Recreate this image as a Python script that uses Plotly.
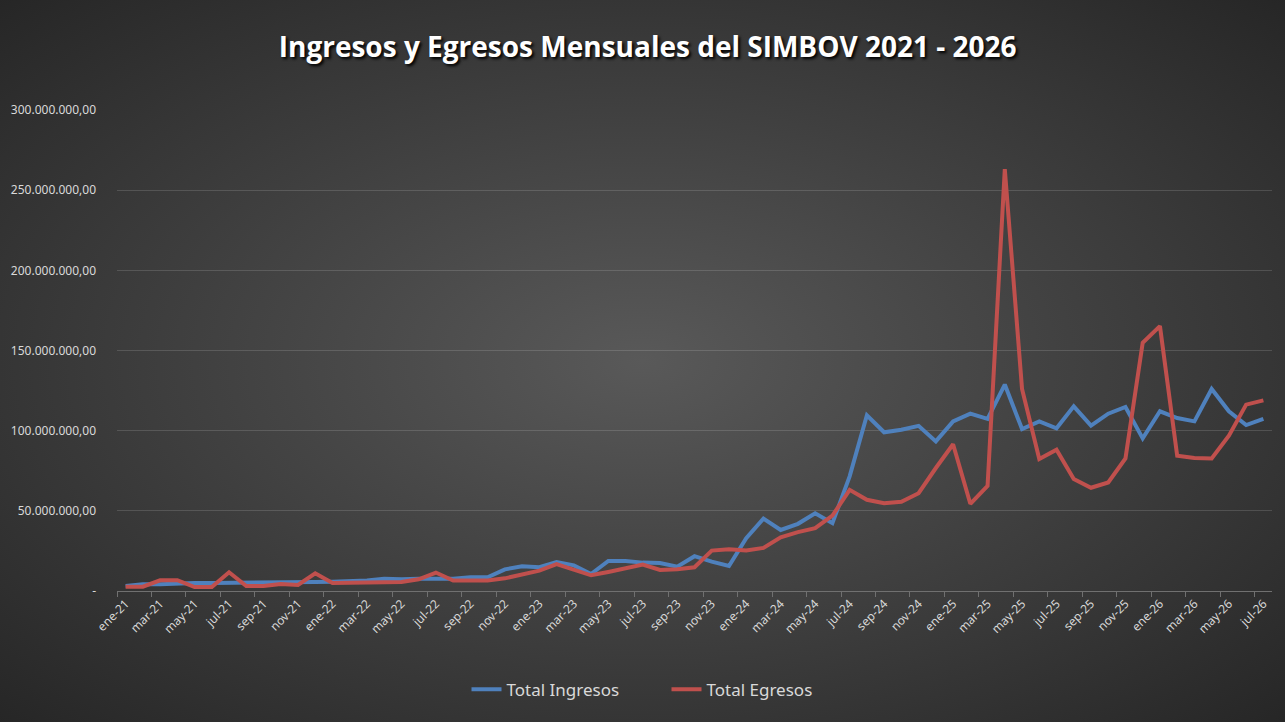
import base64
import plotly.graph_objects as go

# Meses ene-21 .. jul-26
meses_abrev = ['ene', 'feb', 'mar', 'abr', 'may', 'jun', 'jul', 'ago', 'sep', 'oct', 'nov', 'dic']
anios = [21, 22, 23, 24, 25, 26]
meses = [f'{m}-{a}' for a in anios for m in meses_abrev][:67]

# Valores en millones
ingresos_mill = [3.1, 4.2, 4.2, 4.8, 5.0, 5.0, 5.0, 5.6, 5.0, 5.6, 5.0, 5.6, 5.8,
                 6.0, 6.5, 7.7, 7.3, 7.7, 7.7, 7.7, 8.5, 8.5,
                 13.5, 15.4, 14.8, 18.1,
                 16.0, 10.6, 18.75, 18.75, 17.7, 17.5, 15.2, 21.7, 18.3, 15.6,
                 32.9, 45.2, 38.1, 41.9, 48.5, 42.3,
                 71.5, 109.6, 99.0, 100.6, 103.0, 93.3, 105.8, 110.6, 107.3,
                 128.75, 101.0, 105.8, 101.5, 115.2, 103.1, 110.6, 114.8, 95.2,
                 112.1, 107.9, 105.8, 126.0, 112.1, 103.5, 107.3]
egresos_mill = [2.7, 2.7, 6.7, 6.7, 2.5, 2.5, 11.7, 3.1, 3.1, 4.4, 3.75, 11.0, 5.0,
                5.2, 5.2, 5.6, 5.6, 7.3, 11.5, 6.5, 6.5, 6.5,
                7.9, 10.6, 12.7, 16.7,
                13.5, 9.8, 11.9, 14.2, 16.5, 13.1, 13.5, 14.8, 25.2, 26.0,
                25.2, 26.9, 33.5, 36.7, 39.2, 47.0,
                63.1, 56.9, 54.8, 55.6, 61.0, 76.7, 91.5, 54.4, 65.6,
                263.1, 126.0, 82.3, 88.1, 69.8, 64.4, 67.7, 82.7, 154.8,
                165.2, 84.4, 82.9, 82.7, 96.9, 116.25, 118.9]

ingresos = [v * 1e6 for v in ingresos_mill]
egresos = [v * 1e6 for v in egresos_mill]

y_ticks = [0, 50e6, 100e6, 150e6, 200e6, 250e6, 300e6]


def fmt_es(v):
    if v == 0:
        return '-'
    s = f'{v:,.2f}'
    return s.replace(',', '#').replace('.', ',').replace('#', '.')


y_text = [fmt_es(v) for v in y_ticks]

# fondo radial tipo Excel
svg = ('<svg xmlns="http://www.w3.org/2000/svg" width="1285" height="722" preserveAspectRatio="none">'
       '<defs><radialGradient id="g" cx="50%" cy="50%" r="71%">'
       '<stop offset="0%" stop-color="#595959"/><stop offset="100%" stop-color="#262626"/>'
       '</radialGradient></defs><rect width="1285" height="722" fill="url(#g)"/></svg>')
bg_src = 'data:image/svg+xml;base64,' + base64.b64encode(svg.encode()).decode()

fig = go.Figure()

fig.add_trace(go.Scatter(
    x=meses, y=ingresos, name='Total Ingresos', mode='lines',
    line=dict(color='#4F81BD', width=4)
))
fig.add_trace(go.Scatter(
    x=meses, y=egresos, name='Total Egresos', mode='lines',
    line=dict(color='#C0504D', width=4)
))

L, R, T, B = 117, 13, 110, 131
W, H = 1285, 722
pw, ph = W - L - R, H - T - B

fig.update_layout(
    width=W, height=H,
    margin=dict(l=L, r=R, t=T, b=B),
    paper_bgcolor='#2e2e2e',
    plot_bgcolor='rgba(0,0,0,0)',
    images=[dict(source=bg_src, xref='paper', yref='paper',
                 x=-L / pw, y=1 + T / ph, sizex=W / pw, sizey=H / ph,
                 sizing='stretch', layer='below', xanchor='left', yanchor='top')],
    title=dict(
        text='<b>Ingresos y Egresos Mensuales del SIMBOV 2021 - 2026</b>',
        x=0.504, xref='container', xanchor='center', y=0.935, yanchor='middle',
        font=dict(family='Open Sans', size=28, color='#ffffff',
                  shadow='2px 2px 3px #000000')
    ),
    font=dict(family='Noto Sans', color='#d9d9d9'),
    xaxis=dict(
        type='category', tickson='boundaries', dtick=2,
        tickangle=-45, tickfont=dict(size=12, color='#d9d9d9'),
        ticks='outside', ticklen=5, tickcolor='#707070',
        showline=True, linecolor='#707070', linewidth=1,
        showgrid=False, range=[-0.5, 66.5]
    ),
    yaxis=dict(
        range=[0, 300e6], tickvals=y_ticks, ticktext=y_text,
        tickfont=dict(size=12, color='#d9d9d9'),
        showgrid=True, gridcolor='rgba(255,255,255,0.14)', gridwidth=1,
        zeroline=False, showline=False, ticks='', ticklabelstandoff=20
    ),
    legend=dict(
        orientation='h', x=(W / 2 - L + 24) / pw, xanchor='center',
        y=-0.205, yanchor='middle',
        font=dict(size=17, color='#d9d9d9'), bgcolor='rgba(0,0,0,0)',
        entrywidth=155, entrywidthmode='pixels'
    ),
)

fig.write_html('out.html', config={'displayModeBar': False},
               post_script="document.body.style.margin='0';")
